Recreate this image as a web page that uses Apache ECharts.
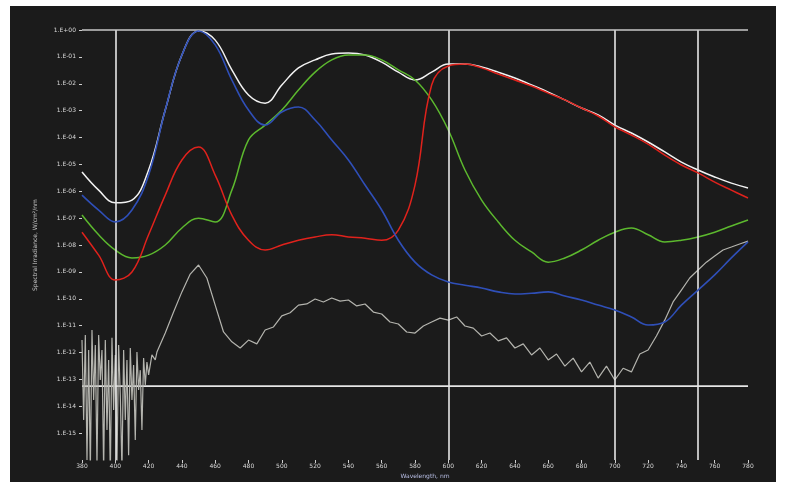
<!DOCTYPE html>
<html>
<head>
<meta charset="utf-8">
<script src="https://cdn.jsdelivr.net/npm/echarts@6/dist/echarts.min.js"></script>
<style>
html,body{margin:0;padding:0;background:#ffffff;}
#panel{position:absolute;left:10px;top:6px;width:766px;height:476px;background:#1b1b1b;}
#chart{position:absolute;left:0;top:0;width:786px;height:487px;}
</style>
</head>
<body>
<div id="panel"></div>
<div id="chart"></div>
<script>
// Wavelength grid (nm) for the smooth curves
const wavelengths = [380,390,400,410,420,430,440,450,460,470,480,490,500,510,520,530,540,550,560,570,580,590,600,610,620,630,640,650,660,670,680,690,700,710,720,730,740,750,760,770,780];

const whiteVals = [5.2e-6,1.1e-6,3.7e-7,4.7e-7,6.2e-6,1.05e-3,1.17e-1,9.2e-1,4.2e-1,3.3e-2,3.8e-3,1.9e-3,9.0e-3,3.9e-2,7.7e-2,1.28e-1,1.39e-1,1.17e-1,6.4e-2,2.7e-2,1.38e-2,2.7e-2,5.4e-2,5.4e-2,4.2e-2,2.7e-2,1.64e-2,9.0e-3,4.9e-3,2.5e-3,1.25e-3,6.9e-4,2.9e-4,1.47e-4,6.8e-5,2.9e-5,1.22e-5,6.2e-6,3.4e-6,2.0e-6,1.32e-6];

const redVals = [3.0e-8,4.2e-9,5.0e-10,9.9e-10,2.4e-8,7.2e-7,1.46e-5,4.4e-5,4.0e-6,1.3e-7,1.5e-8,6.5e-9,1.0e-8,1.5e-8,2.0e-8,2.4e-8,2.0e-8,1.8e-8,1.5e-8,3.6e-8,1.7e-6,9.0e-3,4.6e-2,5.4e-2,3.9e-2,2.3e-2,1.38e-2,8.2e-3,4.5e-3,2.5e-3,1.25e-3,6.3e-4,2.5e-4,1.24e-4,5.7e-5,2.2e-5,9.5e-6,4.8e-6,2.2e-6,1.1e-6,5.6e-7];

const greenVals = [1.3e-7,2.4e-8,6.5e-9,3.3e-9,4.2e-9,1.0e-8,4.3e-8,1.0e-7,7.2e-8,1.1e-6,8.1e-5,2.9e-4,1.05e-3,5.8e-3,2.7e-2,7.7e-2,1.17e-1,1.17e-1,7.7e-2,3.3e-2,1.38e-2,2.5e-3,1.9e-4,6.2e-6,4.7e-7,7.2e-8,1.5e-8,5.5e-9,2.3e-9,3.3e-9,6.5e-9,1.5e-8,3.0e-8,4.3e-8,2.4e-8,1.3e-8,1.5e-8,2.0e-8,3.0e-8,5.1e-8,8.5e-8];

const blueVals = [7.2e-7,2.0e-7,7.2e-8,2.0e-7,4.0e-6,1.05e-3,1.17e-1,9.2e-1,2.8e-1,1.38e-2,1.05e-3,2.9e-4,8.9e-4,1.36e-3,4.5e-4,8.1e-5,1.46e-5,1.7e-6,2.0e-7,1.5e-8,2.3e-9,7.7e-10,4.2e-10,3.2e-10,2.5e-10,1.8e-10,1.5e-10,1.6e-10,1.8e-10,1.26e-10,9.0e-11,5.8e-11,3.8e-11,2.1e-11,1.05e-11,1.36e-11,5.8e-11,2.1e-10,7.7e-10,3.3e-9,1.3e-8];

// Noisy grey trace: its own wavelength samples
const greyWl = [380,381,382,383,384,385,386,387,388,389,390,391,392,393,394,395,396,397,398,399,400,401,402,403,404,405,406,407,408,409,410,411,412,413,414,415,416,417,418,419,420,422,424,
  425,430,435,440,445,450,455,460,465,470,475,480,485,490,495,500,505,510,515,520,525,530,535,540,545,550,555,560,565,570,575,580,585,590,595,600,605,610,615,620,625,630,635,640,645,650,655,660,665,670,675,680,685,690,695,700,705,710,715,720,725,730,735,740,745,750,755,760,765,770,775,780];
const greyVals = [2.9e-12,3.1e-15,4.5e-12,1.0e-16,1.24e-12,4.2e-17,6.9e-12,1.7e-14,1.9e-12,6.5e-17,4.5e-12,9.5e-14,1.24e-12,4.2e-17,2.9e-12,1.3e-15,5.3e-13,2.8e-17,3.5e-12,7.2e-15,8.1e-13,6.5e-17,1.9e-12,2.6e-14,4.2e-17,1.24e-12,3.1e-15,5.3e-13,1.5e-16,1.47e-12,1.7e-14,3.4e-13,5.5e-16,1.04e-12,4.0e-14,2.2e-13,1.3e-15,6.2e-13,6.2e-14,4.4e-13,1.46e-13,8.1e-13,5.3e-13,
  1.04e-12,5.3e-12,3.2e-11,1.8e-10,8.3e-10,1.8e-9,5.9e-10,5.8e-11,5.8e-12,2.5e-12,1.47e-12,2.9e-12,2.1e-12,6.9e-12,8.9e-12,2.3e-11,3.0e-11,5.8e-11,6.4e-11,9.8e-11,7.6e-11,1.07e-10,8.2e-11,9.0e-11,5.4e-11,6.4e-11,3.2e-11,2.7e-11,1.36e-11,1.15e-11,5.8e-12,5.3e-12,9.7e-12,1.36e-11,1.9e-11,1.6e-11,2.1e-11,9.7e-12,8.1e-12,4.1e-12,5.3e-12,2.7e-12,3.5e-12,1.47e-12,2.1e-12,8.1e-13,1.47e-12,5.3e-13,8.8e-13,3.1e-13,6.2e-13,1.9e-13,4.4e-13,1.12e-13,3.1e-13,9.5e-14,2.6e-13,1.9e-13,8.8e-13,1.24e-12,4.1e-12,1.6e-11,7.6e-11,2.1e-10,5.9e-10,1.17e-9,2.3e-9,3.9e-9,6.5e-9,8.4e-9,1.09e-8,1.4e-8];

// Reference lines
const markerWl = [400,600,700,750];
const markerLevel = 5.6e-14;
const topLevel = 1;
const axisRange = [380, 780];

const xTitle = 'Wavelength, nm';
const yTitle = 'Spectral Irradiance, W/cm²/nm';

function pairs(xs, ys){ return xs.map((x,i)=>[x, ys[i]]); }

const chart = echarts.init(document.getElementById('chart'), null, {renderer:'canvas'});

const lineCommon = {type:'line', showSymbol:false, symbol:'none', clip:true, animation:false};

chart.setOption({
  backgroundColor:'transparent',
  animation:false,
  grid:{left:82, right:38, top:30, bottom:27, containLabel:false},
  xAxis:{
    type:'value', min:380, max:780, interval:20,
    name:xTitle, nameLocation:'middle', nameGap:10,
    nameTextStyle:{color:'#b9bfe6', fontSize:6, fontFamily:'DejaVu Sans', padding:[0,0,0,20]},
    axisLine:{show:false},
    axisTick:{show:true, length:3, lineStyle:{color:'#cfcfcf'}},
    axisLabel:{color:'#d8d8d8', fontSize:6, margin:3, fontFamily:'DejaVu Sans'},
    splitLine:{show:false}
  },
  yAxis:{
    type:'log', logBase:10, min:1e-16, max:1, interval:1, splitNumber:16,
    name:yTitle, nameLocation:'middle', nameGap:44, nameRotate:90,
    nameTextStyle:{color:'#c9c9c9', fontSize:6, fontFamily:'DejaVu Sans'},
    axisLine:{show:false},
    axisTick:{show:true, length:3, lineStyle:{color:'#d0d0d0'}},
    axisLabel:{color:'#d8d8d8', fontSize:6, margin:6, fontFamily:'DejaVu Sans', showMinLabel:false,
      formatter:function(v){
        const e = Math.round(Math.log10(v));
        const a = Math.abs(e);
        return '1.E' + (e>=0?'+':'-') + (a<10?'0':'') + a;
      }},
    splitLine:{show:false}
  },
  series:[
    Object.assign({}, lineCommon, {
      name:'level', data:[[axisRange[0], markerLevel],[axisRange[1], markerLevel]], smooth:false,
      lineStyle:{color:'#e6e6e6', width:1.6}, z:1
    }),
    Object.assign({}, lineCommon, {
      name:'grey', data:pairs(greyWl, greyVals), smooth:false,
      lineStyle:{color:'#b4b4ae', width:1.2}, z:2,
      markLine:{
        silent:true, symbol:'none', label:{show:false},
        lineStyle:{color:'#e6e6e6', width:1.6, type:'solid'},
        data: markerWl.map(w=>({xAxis:w})).concat([{yAxis:topLevel, lineStyle:{color:'#c8c8c8', width:1.5}}])
      }
    }),
    Object.assign({}, lineCommon, {name:'white', data:pairs(wavelengths, whiteVals), smooth:0.4, lineStyle:{color:'#f2f2f2', width:1.5}, z:3}),
    Object.assign({}, lineCommon, {name:'green', data:pairs(wavelengths, greenVals), smooth:0.4, lineStyle:{color:'#5cb82e', width:1.5}, z:4}),
    Object.assign({}, lineCommon, {name:'red', data:pairs(wavelengths, redVals), smooth:0.4, lineStyle:{color:'#e0221c', width:1.5}, z:5}),
    Object.assign({}, lineCommon, {name:'blue', data:pairs(wavelengths, blueVals), smooth:0.4, lineStyle:{color:'#2f4fb8', width:1.6}, z:6})
  ]
});
</script>
</body>
</html>
